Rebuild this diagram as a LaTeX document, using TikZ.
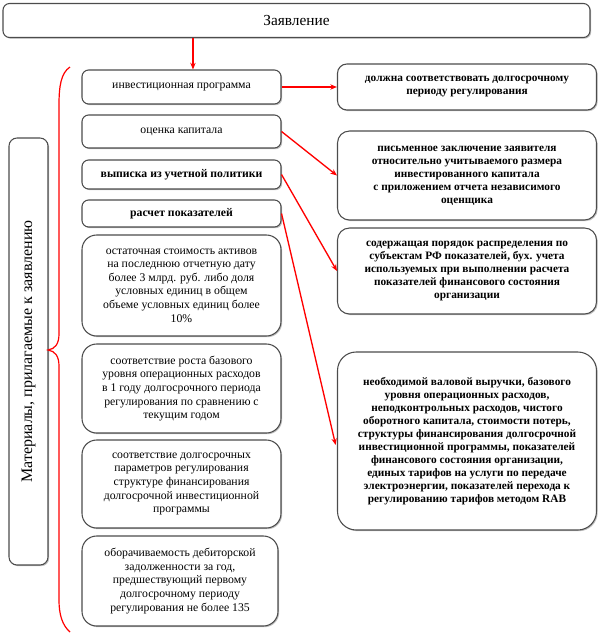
\documentclass[tikz,border=0pt]{standalone}
\usepackage{fontspec}
\setmainfont{LiberationSerif}[Extension=.ttf,UprightFont=*-Regular,BoldFont=*-Bold,ItalicFont=*-Italic,BoldItalicFont=*-BoldItalic]
\usetikzlibrary{shadows,arrows.meta}
\begin{document}
\begin{tikzpicture}[x=0.75pt,y=-0.75pt,
  box/.style={draw=black!70,line width=0.8pt,fill=white,align=center,inner sep=1pt,
     drop shadow={shadow xshift=0.9pt,shadow yshift=-0.9pt,fill=black!30,opacity=0.8}},
  sbox/.style={box,rounded corners=5pt,minimum width=149.25pt,font=\fontsize{8.8}{10}\selectfont},
  lbox/.style={box,rounded corners=11pt,minimum width=149.25pt,font=\fontsize{8.8}{10.2}\selectfont},
  rbox/.style={box,rounded corners=9pt,minimum width=194.25pt,font=\bfseries\fontsize{8.5}{9.8}\selectfont},
  arr/.style={red,line width=1pt,-{Stealth[length=5pt,width=4pt]}}]
\useasboundingbox (0,0) rectangle (600,636);
\node[box,rounded corners=5pt,minimum width=440.25pt,minimum height=25.5pt,font=\fontsize{11.5}{13}\selectfont] (top) at (296.5,20.5) {Заявление};
\node[box,rounded corners=6pt,minimum width=29.25pt,minimum height=320.25pt] (side) at (28.5,351.5) {};
\node[rotate=90,font=\fontsize{12}{14}\selectfont] (sidetext) at (side.center) {Материалы, прилагаемые к заявлению};
\node[sbox,minimum height=25.5pt] (L1) at (181.5,87) {инвестиционная программа};
\node[sbox,minimum height=24.75pt] (L2) at (181.5,131.5) {оценка капитала};
\node[sbox,minimum height=21.75pt,font=\bfseries\fontsize{8.8}{10}\selectfont] (L3) at (181.5,174.5) {выписка из учетной политики};
\node[sbox,minimum height=20.25pt,font=\bfseries\fontsize{8.8}{10}\selectfont] (L4) at (181.5,213.5) {расчет показателей};
\node[lbox,minimum height=75.75pt] (L5) at (181.5,285.5) {остаточная стоимость активов\\на последнюю отчетную дату\\более 3 млрд. руб. либо доля\\условных единиц в общем\\объеме условных единиц более\\10\%};
\node[lbox,minimum height=66.75pt] (L6) at (181.5,388.5) {соответствие роста базового\\уровня операционных расходов\\в 1 году долгосрочного периода\\регулирования по сравнению с\\текущим годом};
\node[lbox,minimum height=66pt] (L7) at (181.5,484) {соответствие долгосрочных\\параметров регулирования\\структуре финансирования\\долгосрочной инвестиционной\\программы};
\node[lbox,minimum height=67.5pt,minimum width=147pt] (L8) at (180,581) {оборачиваемость дебиторской\\задолженности за год,\\предшествующий первому\\долгосрочному периоду\\регулирования не более 135};
\node[rbox,rounded corners=7pt,minimum height=34.5pt] (R1) at (467,87) {должна соответствовать долгосрочному\\периоду регулирования};
\node[rbox,minimum height=66.75pt] (R2) at (467,175.5) {письменное заключение заявителя\\относительно учитываемого размера\\инвестированного капитала\\с приложением отчета независимого\\оценщика};
\node[rbox,minimum height=64.5pt] (R3) at (467,271) {содержащая порядок распределения по\\субъектам РФ показателей, бух. учета\\используемых при выполнении расчета\\показателей финансового состояния\\организации};
\node[rbox,rounded corners=14pt,minimum height=133.5pt] (R4) at (467,441) {необходимой валовой выручки, базового\\уровня операционных расходов,\\неподконтрольных расходов, чистого\\оборотного капитала, стоимости потерь,\\структуры финансирования долгосрочной\\инвестиционной программы, показателей\\финансового состояния организации,\\единых тарифов на услуги по передаче\\электроэнергии, показателей перехода к\\регулированию тарифов методом RAB};
\coordinate (a) at ([xshift=8.6pt]L1.north);
\draw[arr] (top.south -| a) -- (a);
\draw[arr] (L1.east) -- (R1.west |- L1.east);
\draw[arr] (L2.east) -- (R2.west);
\draw[arr] (L3.east) -- (R3.west);
\draw[arr] (L4.east) -- ([xshift=-1pt,yshift=-3pt]R4.west);
\draw[red,line width=0.9pt] (70,67) .. controls (61,73) and (59,86) .. (59,105) -- (59,334) .. controls (59,344) and (55,349) .. (48,350) .. controls (55,351) and (59,356) .. (59,366) -- (59,600) .. controls (59,614) and (62,625) .. (70,632);
\end{tikzpicture}
\end{document}
